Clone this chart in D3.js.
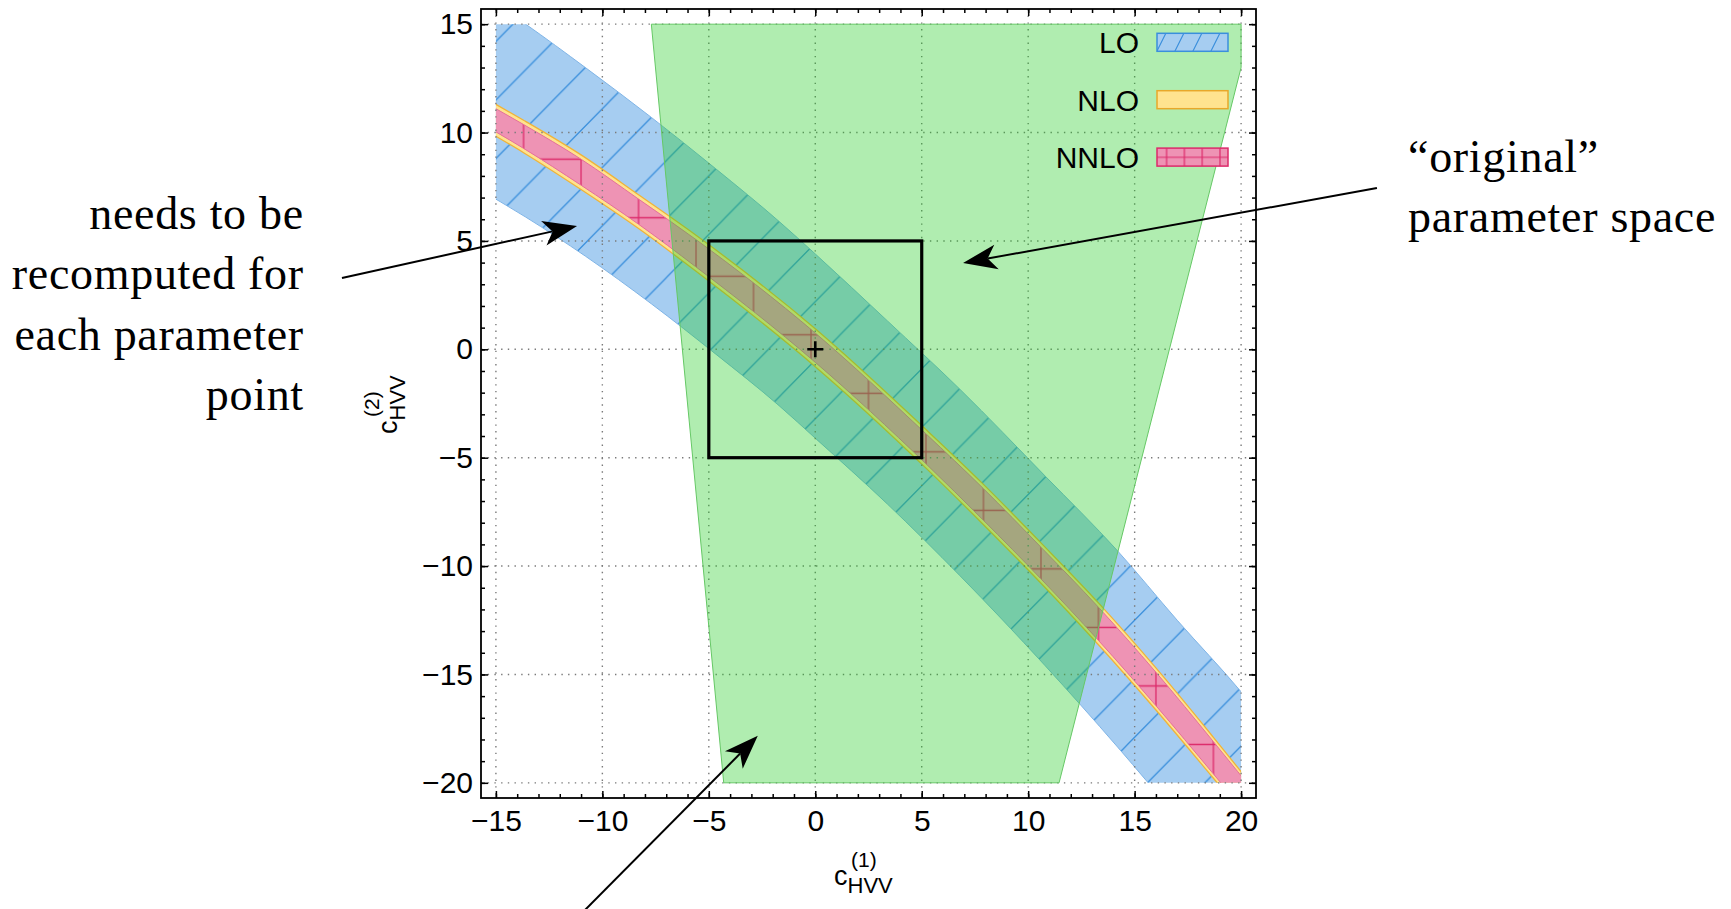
<!DOCTYPE html>
<html lang="en">
<head>
<meta charset="utf-8">
<script src="https://d3js.org/d3.v7.min.js"></script>
<style>
  body { margin: 0; background: #fff; }
  svg { display: block; }
  .tick text { font-family: "Liberation Sans", Arial, sans-serif; font-size: 30px; fill: #000; }
  .lab { font-family: "Liberation Sans", Arial, sans-serif; fill: #000; }
  .note { font-family: "Liberation Serif", "Times New Roman", serif; font-size: 46px; letter-spacing: 0.7px; fill: #000; }
</style>
</head>
<body>
<script>
// ---- values ----
// LO band (blue, hatched): common abscissae, upper and lower edge
var loX     = [-16, -13.6, -10.8, -7.7, -4.7, -1.7, 0, 3.4, 6.8, 10.8, 14.2, 17, 20, 21];
var loUpper = [16.6, 15.0, 13.0, 10.7, 8.35, 5.9, 4.4, 1.3, -1.85, -5.85, -9.3, -12.5, -15.8, -17.0];
var loLower = [7.5, 6.1, 4.3, 2.1, -0.2, -2.6, -4.1, -7.15, -10.45, -14.6, -18.35, -21.6, -25.2, -26.5];

// NLO (yellow) and NNLO (pink, cross hatched) bands
var bandX     = [-16, -15, -13.7, -11, -8.3, -5.6, 0, 5.2, 7.9, 10.6, 13.3, 16, 18.7, 21];
var nloUpper  = [11.85, 11.3, 10.57, 8.97, 7.13, 5.26, 0.95, -3.7, -6.23, -8.93, -11.7, -14.7, -17.9, -20.7];
var nloLower  = [10.4, 9.83, 9.07, 7.37, 5.57, 3.6, -0.8, -5.48, -8.09, -10.79, -13.63, -16.64, -19.79, -22.5];
var nnloUpper = [11.65, 11.1, 10.37, 8.77, 6.93, 5.06, 0.75, -3.9, -6.43, -9.13, -11.9, -14.9, -18.1, -20.9];
var nnloLower = [10.6, 10.03, 9.27, 7.57, 5.77, 3.8, -0.6, -5.28, -7.89, -10.59, -13.43, -16.44, -19.59, -22.3];

// "original" parameter space (green polygon)
var origX = [-7.7, 20, 20, 11.45, -4.3];
var origY = [15, 15, 13, -20, -20];

// box [-5,5]x[-5,5] and reference point
var boxX = [-5, 5];
var boxY = [-5, 5];
var refPoint = [0, 0];

var xMajor = [-15, -10, -5, 0, 5, 10, 15, 20];
var yMajor = [-20, -15, -10, -5, 0, 5, 10, 15];
var xMinor = d3.range(-15, 21, 1);
var yMinor = d3.range(-20, 16, 1);
var legendNames = ["LO", "NLO", "NNLO"];

// annotations (data coordinates)
var leftNote = ["needs to be", "recomputed for", "each parameter", "point"];
var rightNote = ["\u201Coriginal\u201D", "parameter space"];
var arrows = [
  {from: [-22.23, 3.29], to: [-11.19, 5.69]},
  {from: [26.38, 7.44], to: [6.94, 3.98]},
  {from: [-10.91, -25.96], to: [-2.70, -17.83]}
];

// colours
var blueFill = "#a6cdf1", blueLine = "#3a8fdc";
var yellowFill = "#ffe38f", yellowLine = "#efb43a";
var pinkFill = "#ee93b4", pinkLine = "#dc2a6a";
var greenFill = "rgb(29,204,29)", greenOpacity = 0.35, greenLine = "#66c866";

var width = 1731, height = 909;
var x = d3.scaleLinear().domain([-15.7, 20.7]).range([481, 1256]);
var y = d3.scaleLinear().domain([-20.7, 15.7]).range([798, 9]);

var svg = d3.select("body").append("svg")
    .attr("width", width)
    .attr("height", height);

var defs = svg.append("defs");

defs.append("clipPath").attr("id", "plotClip")
  .append("rect")
    .attr("x", x(-15)).attr("y", y(15))
    .attr("width", x(20) - x(-15))
    .attr("height", y(-20) - y(15));

// hatch tiles: 2.7 data units in each direction
var pw = x(2.7) - x(0), ph = y(0) - y(2.7);

var pLO = defs.append("pattern").attr("id", "hatchLO")
    .attr("patternUnits", "userSpaceOnUse")
    .attr("x", x(20)).attr("y", y(-18.3))
    .attr("width", pw).attr("height", ph);
pLO.append("path")
    .attr("d", "M0," + ph + "L" + pw + ",0" +
               "M" + (-pw / 2) + "," + (ph / 2) + "L" + (pw / 2) + "," + (-ph / 2) +
               "M" + (pw / 2) + "," + (1.5 * ph) + "L" + (1.5 * pw) + "," + (ph / 2))
    .attr("stroke", blueLine).attr("stroke-width", 1.3).attr("fill", "none");

var pNN = defs.append("pattern").attr("id", "hatchNNLO")
    .attr("patternUnits", "userSpaceOnUse")
    .attr("x", x(-13.7) - pw / 2).attr("y", y(8.77) - ph / 2)
    .attr("width", pw).attr("height", ph);
pNN.append("path")
    .attr("d", "M" + (pw / 2) + ",0V" + ph + "M0," + (ph / 2) + "H" + pw)
    .attr("stroke", pinkLine).attr("stroke-width", 1.3).attr("fill", "none");

// small versions for the legend swatches
var pLOs = defs.append("pattern").attr("id", "hatchLOs")
    .attr("patternUnits", "userSpaceOnUse")
    .attr("x", 1166).attr("y", 33)
    .attr("width", 18).attr("height", 36);
pLOs.append("path")
    .attr("d", "M0,36L18,0M-9,18L9,-18M9,54L27,18")
    .attr("stroke", blueLine).attr("stroke-width", 1.2).attr("fill", "none");

var pNNs = defs.append("pattern").attr("id", "hatchNNLOs")
    .attr("patternUnits", "userSpaceOnUse")
    .attr("x", 1157.7).attr("y", 139.3)
    .attr("width", 17.8).attr("height", 36);
pNNs.append("path")
    .attr("d", "M8.9,0V36M0,18H17.8")
    .attr("stroke", pinkLine).attr("stroke-width", 1.2).attr("fill", "none");

function bandPath(xs, lo, hi) {
  return d3.area()
    .curve(d3.curveMonotoneX)
    .x(function(d, i) { return x(xs[i]); })
    .y0(function(d, i) { return y(lo[i]); })
    .y1(function(d, i) { return y(hi[i]); })(xs);
}
function edgePath(xs, ys) {
  return d3.line()
    .curve(d3.curveMonotoneX)
    .x(function(d, i) { return x(xs[i]); })
    .y(function(d, i) { return y(ys[i]); })(xs);
}

var plot = svg.append("g").attr("clip-path", "url(#plotClip)");

// LO
plot.append("path").attr("d", bandPath(loX, loLower, loUpper)).attr("fill", blueFill);
plot.append("path").attr("d", bandPath(loX, loLower, loUpper)).attr("fill", "url(#hatchLO)");
[loUpper, loLower].forEach(function(ys) {
  plot.append("path").attr("d", edgePath(loX, ys))
    .attr("fill", "none").attr("stroke", "#7fb4e6").attr("stroke-width", 1);
});

// NLO
plot.append("path").attr("d", bandPath(bandX, nloLower, nloUpper)).attr("fill", yellowFill);
[nloUpper, nloLower].forEach(function(ys) {
  plot.append("path").attr("d", edgePath(bandX, ys))
    .attr("fill", "none").attr("stroke", yellowLine).attr("stroke-width", 1.3);
});

// NNLO
plot.append("path").attr("d", bandPath(bandX, nnloLower, nnloUpper)).attr("fill", pinkFill);
plot.append("path").attr("d", bandPath(bandX, nnloLower, nnloUpper)).attr("fill", "url(#hatchNNLO)");
[nnloUpper, nnloLower].forEach(function(ys) {
  plot.append("path").attr("d", edgePath(bandX, ys))
    .attr("fill", "none").attr("stroke", "#e4709a").attr("stroke-width", 1);
});

// dotted grid
var grid = svg.append("g").attr("stroke", "#7a7a7a").attr("stroke-width", 1.4)
    .attr("stroke-dasharray", "1.4 5.3");
grid.selectAll(".gx").data(xMajor).enter().append("line")
    .attr("x1", function(d) { return x(d); }).attr("x2", function(d) { return x(d); })
    .attr("y1", y.range()[1]).attr("y2", y.range()[0]);
grid.selectAll(".gy").data(yMajor).enter().append("line")
    .attr("y1", function(d) { return y(d); }).attr("y2", function(d) { return y(d); })
    .attr("x1", x.range()[0]).attr("x2", x.range()[1]);

// original parameter space, translucent over everything
var origPts = origX.map(function(v, i) { return [x(v), y(origY[i])]; });
svg.append("path")
    .attr("d", "M" + origPts.join("L") + "Z")
    .attr("fill", greenFill)
    .attr("fill-opacity", greenOpacity);
svg.append("path")
    .attr("d", "M" + origPts.join("L") + "Z")
    .attr("fill", "none").attr("stroke", greenLine).attr("stroke-width", 1);

// box and reference point
svg.append("rect")
    .attr("x", x(boxX[0])).attr("y", y(boxY[1]))
    .attr("width", x(boxX[1]) - x(boxX[0]))
    .attr("height", y(boxY[0]) - y(boxY[1]))
    .attr("fill", "none").attr("stroke", "#000").attr("stroke-width", 3.2);
svg.append("path")
    .attr("d", "M" + (x(refPoint[0]) - 8) + "," + y(refPoint[1]) + "h16" +
               "M" + x(refPoint[0]) + "," + (y(refPoint[1]) - 8) + "v16")
    .attr("stroke", "#000").attr("stroke-width", 2.6);

// frame with inward ticks on all sides
function addAxis(axis, tx, ty) {
  var g = svg.append("g").attr("transform", "translate(" + tx + "," + ty + ")").call(axis);
  g.select(".domain").remove();
  g.selectAll(".tick line").attr("stroke", "#000").attr("stroke-width", 1.5);
  return g;
}
var fmt = d3.format("d");
addAxis(d3.axisBottom(x).tickValues(xMajor).tickFormat(fmt).tickSize(-7).tickPadding(12), 0, y.range()[0]);
addAxis(d3.axisLeft(y).tickValues(yMajor).tickFormat(fmt).tickSize(-7).tickPadding(8), x.range()[0], 0);
addAxis(d3.axisTop(x).tickValues(xMajor).tickFormat("").tickSize(-7), 0, y.range()[1]);
addAxis(d3.axisRight(y).tickValues(yMajor).tickFormat("").tickSize(-7), x.range()[1], 0);
addAxis(d3.axisBottom(x).tickValues(xMinor).tickFormat("").tickSize(-4), 0, y.range()[0]);
addAxis(d3.axisTop(x).tickValues(xMinor).tickFormat("").tickSize(-4), 0, y.range()[1]);
addAxis(d3.axisLeft(y).tickValues(yMinor).tickFormat("").tickSize(-4), x.range()[0], 0);
addAxis(d3.axisRight(y).tickValues(yMinor).tickFormat("").tickSize(-4), x.range()[1], 0);

svg.append("rect")
    .attr("x", x.range()[0]).attr("y", y.range()[1])
    .attr("width", x.range()[1] - x.range()[0])
    .attr("height", y.range()[0] - y.range()[1])
    .attr("fill", "none").attr("stroke", "#000").attr("stroke-width", 1.8);

// axis labels
var xl = svg.append("g").attr("class", "lab").attr("transform", "translate(834,885)");
xl.append("text").style("font-size", "27px").text("c")
  .append("tspan").attr("dy", 8).style("font-size", "22px").text("HVV");
xl.append("text").attr("x", 17).attr("y", -18).style("font-size", "21px").text("(1)");

var yl = svg.append("g").attr("class", "lab").attr("transform", "translate(397,434) rotate(-90)");
yl.append("text").style("font-size", "27px").text("c")
  .append("tspan").attr("dy", 8).style("font-size", "22px").text("HVV");
yl.append("text").attr("x", 17).attr("y", -18).style("font-size", "21px").text("(2)");

// legend
var legend = svg.append("g").attr("class", "lab");
var swatchFill = [blueFill, yellowFill, pinkFill];
var swatchLine = [blueLine, "#e8a82a", pinkLine];
var swatchHatch = ["url(#hatchLOs)", null, "url(#hatchNNLOs)"];
legendNames.forEach(function(name, i) {
  var top = 33.3 + i * 57.4;
  legend.append("text")
      .attr("x", 1139).attr("y", top + 20)
      .attr("text-anchor", "end")
      .style("font-size", "30px")
      .text(name);
  legend.append("rect")
      .attr("x", 1157).attr("y", top).attr("width", 71).attr("height", 18)
      .attr("fill", swatchFill[i]);
  if (swatchHatch[i]) {
    legend.append("rect")
        .attr("x", 1157).attr("y", top).attr("width", 71).attr("height", 18)
        .attr("fill", swatchHatch[i]);
  }
  legend.append("rect")
      .attr("x", 1157).attr("y", top).attr("width", 71).attr("height", 18)
      .attr("fill", "none").attr("stroke", swatchLine[i]).attr("stroke-width", 1.5);
});

// annotations
var notes = svg.append("g");
leftNote.forEach(function(t, i) {
  notes.append("text").attr("class", "note")
      .attr("x", x(-24.02)).attr("y", y(5.55) + i * 60.3)
      .attr("text-anchor", "end")
      .text(t);
});
rightNote.forEach(function(t, i) {
  notes.append("text").attr("class", "note")
      .attr("x", x(27.84)).attr("y", y(8.19) + i * 60)
      .text(t);
});

arrows.forEach(function(a) {
  var p0 = [x(a.from[0]), y(a.from[1])], p1 = [x(a.to[0]), y(a.to[1])];
  var dx = p1[0] - p0[0], dy = p1[1] - p0[1], L = Math.hypot(dx, dy);
  var ux = dx / L, uy = dy / L, nx = -uy, ny = ux;
  var len = 34, hw = 12.5, notch = 25;
  var bx = p1[0] - ux * len, by = p1[1] - uy * len;
  var c1 = [bx + nx * hw, by + ny * hw], c2 = [bx - nx * hw, by - ny * hw];
  var nb = [p1[0] - ux * notch, p1[1] - uy * notch];
  notes.append("line")
      .attr("x1", p0[0]).attr("y1", p0[1]).attr("x2", nb[0]).attr("y2", nb[1])
      .attr("stroke", "#000").attr("stroke-width", 2);
  notes.append("path")
      .attr("d", "M" + p1 + "L" + c1 + "L" + nb + "L" + c2 + "Z")
      .attr("fill", "#000");
});
</script>
</body>
</html>
